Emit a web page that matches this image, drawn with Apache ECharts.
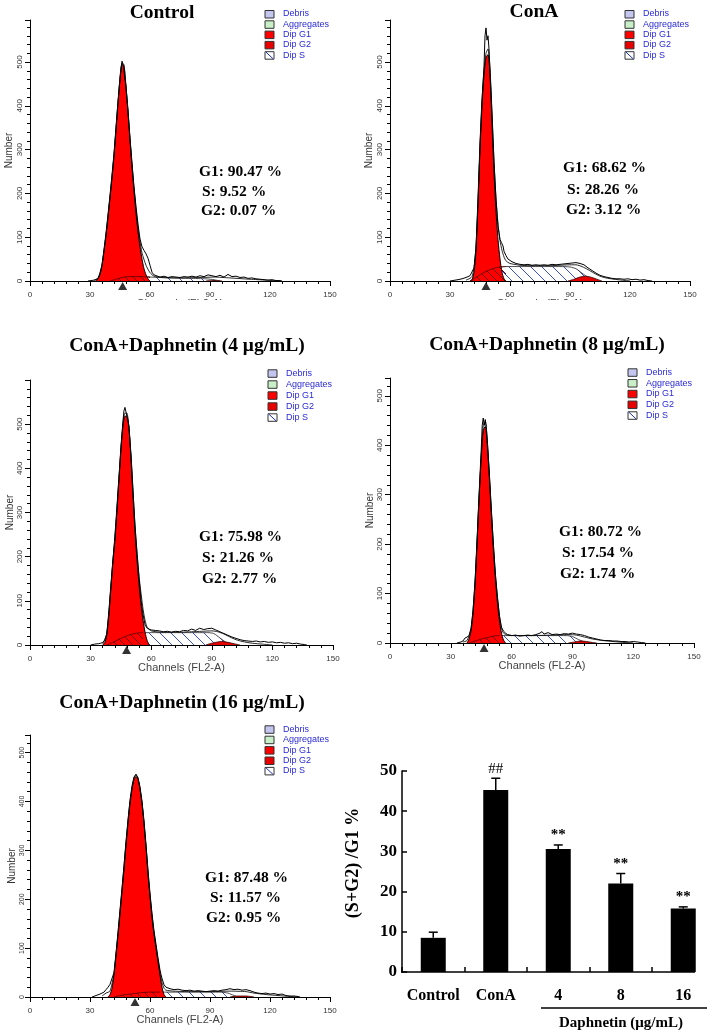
<!DOCTYPE html>
<html><head><meta charset="utf-8">
<script src="https://cdn.jsdelivr.net/npm/echarts@6/dist/echarts.min.js"></script>
<style>html,body{margin:0;padding:0;background:#fff}#c{width:720px;height:1035px}</style>
</head><body><div id="c"></div>
<script>
// ---------- DATA ----------
const panelTitles = ['Control', 'ConA', 'ConA+Daphnetin (4 μg/mL)', 'ConA+Daphnetin (8 μg/mL)', 'ConA+Daphnetin (16 μg/mL)'];
const g1Pct = ['90.47', '68.62', '75.98', '80.72', '87.48'];
const sPct = ['9.52', '28.26', '21.26', '17.54', '11.57'];
const g2Pct = ['0.07', '3.12', '2.77', '1.74', '0.95'];
const g1MeanChannel = [46.3, 48, 47.8, 46.4, 52.5];
const legendNames = ['Debris', 'Aggregates', 'Dip G1', 'Dip G2', 'Dip S'];
const xTicks = [0, 30, 60, 90, 120, 150];

// Control
const ctrlG1 = [[33,0],[34,5],[35,15],[36,35],[37,68],[38,105],[39,145],[40,190],[41,235],[42,285],[43,345],[44,405],[45,460],[46,495],[47,490],[48,440],[49,385],[50,320],[51,260],[52,205],[53,155],[54,112],[55,78],[56,50],[57,28],[58,14],[59,5],[60,0]];
const ctrlS = [[40,0],[43,4],[46,8],[50,10],[55,10],[60,9],[70,7],[80,6],[88,5],[92,3],[95,0]];
const ctrlG2 = [[88,0],[92,1],[96,0]];
const ctrlFit = [[32,0],[34,6],[36,38],[38,110],[40,196],[42,292],[44,410],[46,498],[47,494],[48,445],[50,326],[52,212],[54,120],[55,90],[56,64],[58,36],[60,19],[62,11],[66,8],[75,7],[85,8],[92,9],[100,7],[110,4],[118,2],[124,0]];
const ctrlRaw = [[29,0],[30,2],[32,2],[33,3],[34,6],[35,16],[36,36],[37,70],[38,104],[39,148],[40,192],[41,238],[42,288],[43,348],[44,408],[45,462],[46,502],[46.5,495],[47,494],[48,444],[49,390],[50,325],[51,268],[52,215],[53,170],[54,130],[55,96],[56,78],[57,70],[58,62],[59,52],[60,36],[61,20],[62,14],[63,12],[65,9],[67,11],[69,8],[71,10],[73,9],[75,8],[77,10],[79,9],[81,11],[83,9],[85,12],[87,10],[89,14],[91,12],[93,10],[95,13],[97,9],[99,15],[101,10],[103,11],[105,8],[107,9],[109,6],[111,7],[113,5],[115,4],[117,3],[119,2],[121,3],[123,1],[125,1],[126,0]];

// ConA
const conaG1 = [[40,0],[41,3],[42,20],[43,70],[44,175],[45,300],[46,400],[47,470],[48,510],[49,517],[50,470],[51,360],[52,245],[53,160],[54,95],[55,50],[56,20],[57,5],[58,0]];
const conaS = [[40,0],[43,8],[46,17],[49,24],[52,29],[55,32],[58,33],[65,33],[75,33],[85,33],[90,32],[93,28],[96,18],[99,8],[102,0]];
const conaG2 = [[89,0],[92,4],[95,9],[98,11],[101,8],[104,3],[106,0]];
const conaFit = [[38,2],[40,6],[41,10],[42,30],[43,80],[44,190],[45,315],[46,415],[47,480],[48,520],[49,530],[50,485],[51,385],[52,275],[53,190],[54,130],[55,92],[56,70],[57,55],[58,46],[60,40],[65,36],[70,35],[75,35],[80,35],[85,36],[90,37],[93,37],[96,33],[99,26],[102,18],[105,11],[108,7],[112,4],[116,2],[120,0]];
const conaRaw = [[30,0],[31,2],[34,3],[36,5],[38,8],[40,12],[41,15],[42,30],[43,75],[44,180],[45,310],[46,410],[47,490],[47.5,560],[48,578],[48.5,550],[49,560],[49.5,530],[50,480],[51,380],[52,270],[53,185],[54,125],[55,95],[55.7,88],[56.5,80],[57,68],[58,58],[59,50],[60,46],[61,44],[62,42],[63,40],[65,38],[67,37],[69,38],[71,36],[73,37],[75,36],[77,37],[79,36],[81,38],[83,37],[85,38],[87,39],[89,40],[91,41],[93,42],[95,40],[97,37],[99,30],[101,24],[103,18],[105,13],[107,10],[109,8],[111,6],[113,5],[115,5],[117,4],[119,5],[121,3],[123,4],[125,2],[127,3],[129,1],[131,0]];

// ConA + Daphnetin 4
const d4G1 = [[36,0],[37,5],[38,22],[39,65],[40,125],[41,185],[42,235],[43,300],[44,370],[45,440],[46,495],[47,518],[48,518],[49,490],[50,420],[51,335],[52,255],[53,190],[54,135],[55,90],[56,55],[57,28],[58,10],[59,0]];
const d4S = [[38,0],[41,6],[44,13],[47,19],[50,24],[53,27],[56,28],[60,28],[70,28],[80,28],[88,28],[91,26],[94,16],[97,6],[99,0]];
const d4G2 = [[87,0],[90,4],[93,7],[95,8],[98,6],[101,3],[104,0]];
const d4Fit = [[36,2],[38,26],[40,133],[42,245],[44,378],[46,500],[47,525],[48,525],[50,430],[52,270],[54,155],[56,80],[57,55],[58,40],[60,32],[65,29],[70,29],[75,29],[80,30],[85,31],[90,32],[93,30],[96,25],[99,18],[102,12],[105,8],[110,4],[115,2],[120,0]];
const d4Raw = [[30,0],[32,2],[34,3],[35,4],[36,6],[37,10],[38,25],[39,70],[40,130],[41,190],[42,240],[43,305],[44,375],[45,448],[46,505],[46.5,530],[47,538],[47.5,528],[48,530],[49,495],[50,428],[51,345],[52,268],[53,205],[54,150],[55,100],[56,68],[57,45],[58,38],[59,36],[60,34],[62,33],[64,32],[66,30],[68,31],[70,29],[72,31],[74,30],[76,33],[78,32],[80,36],[82,33],[84,38],[86,35],[88,37],[90,38],[92,34],[94,30],[96,26],[98,22],[100,18],[102,15],[104,12],[106,10],[108,9],[110,8],[112,9],[114,7],[116,8],[118,6],[120,7],[122,5],[124,6],[126,4],[128,5],[130,3],[132,4],[134,2],[136,1],[137,0]];

// ConA + Daphnetin 8
const d8G1 = [[38,0],[39,8],[40,25],[41,60],[42,120],[43,205],[44,295],[45,375],[46,430],[47,438],[48,400],[49,335],[50,260],[51,190],[52,130],[53,82],[54,45],[55,20],[56,6],[57,0]];
const d8S = [[39,0],[42,4],[45,8],[48,11],[51,14],[54,15],[58,15],[70,15],[80,15],[87,15],[90,13],[93,7],[96,2],[97,0]];
const d8G2 = [[88,0],[91,2],[94,4],[97,3],[100,1],[102,0]];
const d8Fit = [[36,2],[38,5],[40,28],[42,125],[44,300],[46,440],[47,448],[48,410],[50,268],[52,138],[54,55],[55,30],[56,20],[58,16],[62,15],[70,15],[80,16],[88,17],[92,16],[96,12],[100,8],[105,5],[110,3],[116,1],[120,0]];
const d8Raw = [[33,0],[35,2],[36,4],[37,10],[38,12],[39,15],[40,30],[41,65],[42,128],[43,212],[44,305],[45,390],[45.5,440],[46,455],[46.5,440],[47,452],[47.5,438],[48,410],[49,345],[50,270],[51,200],[52,140],[53,92],[54,55],[55,32],[56,24],[57,20],[58,17],[60,15],[62,16],[64,14],[66,15],[68,16],[70,15],[72,17],[74,20],[75,23],[76,18],[78,21],[80,17],[82,18],[84,17],[86,19],[88,18],[90,20],[92,18],[94,17],[96,15],[98,12],[100,10],[102,8],[104,6],[106,5],[108,5],[110,4],[112,4],[114,3],[116,3],[118,2],[120,3],[122,2],[124,1],[126,0]];

// ConA + Daphnetin 16
const d16G1 = [[39,0],[40,5],[41,18],[42,45],[43,85],[44,125],[45,170],[46,215],[47,260],[48,310],[49,355],[50,395],[51,425],[52,445],[53,451],[54,445],[55,425],[56,395],[57,355],[58,305],[59,250],[60,205],[61,162],[62,128],[63,100],[64,72],[65,45],[66,20],[67,5],[68,0]];
const d16S = [[42,0],[45,3],[48,5],[52,7],[56,9],[60,10],[65,10],[75,10],[85,10],[95,10],[99,8],[102,3],[104,0]];
const d16G2 = [[100,0],[104,2],[108,2],[112,0]];
const d16Fit = [[36,2],[38,8],[40,12],[42,48],[44,130],[46,220],[48,315],[50,400],[52,448],[53,454],[54,448],[56,398],[58,308],[60,208],[62,132],[64,76],[65,50],[66,30],[67,18],[68,14],[72,12],[80,11],[90,11],[100,12],[108,11],[112,8],[118,5],[124,3],[130,1],[134,0]];
const d16Raw = [[31,0],[32,2],[33,3],[35,6],[37,10],[38,15],[39,20],[40,26],[41,30],[42,50],[43,90],[44,132],[45,178],[46,222],[47,268],[48,318],[49,362],[50,402],[51,432],[52,450],[53,456],[53.5,452],[54,448],[55,430],[56,400],[57,360],[58,312],[59,258],[60,212],[61,170],[62,135],[63,108],[64,80],[65,55],[65.5,46],[66,38],[67,25],[68,20],[70,17],[72,15],[74,16],[76,14],[78,13],[80,14],[82,12],[84,13],[86,12],[88,11],[90,12],[92,13],[94,12],[96,14],[98,15],[100,17],[102,15],[104,16],[106,14],[108,15],[110,13],[112,10],[114,8],[116,7],[118,8],[120,6],[122,7],[124,5],[126,6],[128,3],[130,2],[132,2],[134,1],[135,0]];

// Bar chart
const barCategories = ['Control', 'ConA', '4', '8', '16'];
const barMeans = [8.5, 45.3, 30.6, 22.0, 15.8];
const barErrors = [1.4, 2.9, 1.0, 2.5, 0.4];
const barMarks = ['', '##', '**', '**', '**'];
const barYTicks = [0, 10, 20, 30, 40, 50];

// ---------- LAYOUT ----------
const histData = [
  {g1: ctrlG1, s: ctrlS, g2: ctrlG2, fit: ctrlFit, raw: ctrlRaw},
  {g1: conaG1, s: conaS, g2: conaG2, fit: conaFit, raw: conaRaw},
  {g1: d4G1, s: d4S, g2: d4G2, fit: d4Fit, raw: d4Raw},
  {g1: d8G1, s: d8S, g2: d8G2, fit: d8Fit, raw: d8Raw},
  {g1: d16G1, s: d16S, g2: d16G2, fit: d16Fit, raw: d16Raw}
];
const layouts = [
  {left: 30, top: 20, width: 300, height: 261, yMax: 596, nameGap: 16, lblMargin: 6, lblSize: 8, tx: 162, ty: 13, txt: [[199,172],[202,192],[201,211]], leg: {x: 265, y: 14, step: 10.3}},
  {left: 390, top: 20, width: 300, height: 261, yMax: 596, nameGap: 16, lblMargin: 6, lblSize: 8, tx: 534, ty: 12, txt: [[563,168],[567,190],[566,210]], leg: {x: 625, y: 14, step: 10.3}},
  {left: 30, top: 380, width: 303, height: 265, yMax: 600, nameGap: 15, lblMargin: 6, lblSize: 8, tx: 187, ty: 346, txt: [[199,537],[202,558],[202,579]], leg: {x: 268, y: 373.3, step: 11}},
  {left: 390, top: 378, width: 304, height: 265, yMax: 536, nameGap: 15, lblMargin: 6, lblSize: 8, tx: 547, ty: 345, txt: [[559,532],[562,553],[560,574]], leg: {x: 628, y: 372.3, step: 10.75}},
  {left: 30, top: 735, width: 300, height: 262, yMax: 536, nameGap: 13, lblMargin: 4, lblSize: 7, tx: 182, ty: 703, txt: [[205,878],[210,898],[206,918]], leg: {x: 265, y: 729.3, step: 10.4}}
];

function makeHatch(stroke, bg, n) {
  const c = document.createElement('canvas');
  c.width = n; c.height = n;
  const g = c.getContext('2d');
  if (bg) { g.fillStyle = bg; g.fillRect(0, 0, n, n); }
  g.strokeStyle = stroke; g.lineWidth = 1;
  g.beginPath(); g.moveTo(-1, -1); g.lineTo(n + 1, n + 1); g.stroke();
  return c;
}
const hatchBlueImg = makeHatch('#3a4fd6', '#ffffff', 11);
const hatchRedImg = makeHatch('#6a0000', null, 8);

const SANS = '"Liberation Sans", Arial, sans-serif';
const SERIF = '"Liberation Serif", "Times New Roman", serif';

const grids = [], xAxes = [], yAxes = [], series = [], graphics = [];

function txt(x, y, text, font, fill, align, vAlign, extra) {
  return Object.assign({
    type: 'text', x: x, y: y, z: 100,
    style: {text: text, font: font, fill: fill || '#000', align: align || 'left', verticalAlign: vAlign || 'middle',
      textAlign: align || 'left', textVerticalAlign: vAlign || 'middle'}
  }, extra || {});
}

layouts.forEach((L, i) => {
  const D = histData[i];
  grids.push({left: L.left, top: L.top, width: L.width, height: L.height, containLabel: false});
  xAxes.push({
    type: 'value', gridIndex: i, min: 0, max: 150, interval: 30,
    axisLine: {show: true, onZero: false, lineStyle: {color: '#000', width: 1}},
    axisTick: {show: true, length: 5, lineStyle: {color: '#000', width: 1}},
    minorTick: {show: true, splitNumber: 5, length: 3, lineStyle: {color: '#000', width: 1}},
    splitLine: {show: false},
    axisLabel: {fontSize: 8, fontFamily: SANS, color: '#333', margin: 10},
    name: 'Channels (FL2-A)', nameLocation: 'middle', nameGap: 17, nameMoveOverlap: false,
    nameTextStyle: {fontSize: 11, fontFamily: SANS, color: '#444'}
  });
  yAxes.push({
    type: 'value', gridIndex: i, min: 0, max: L.yMax, interval: 100,
    axisLine: {show: true, onZero: false, lineStyle: {color: '#000', width: 1}},
    axisTick: {show: true, length: 5, lineStyle: {color: '#000', width: 1}},
    minorTick: {show: true, splitNumber: 5, length: 3, lineStyle: {color: '#000', width: 1}},
    splitLine: {show: false},
    axisLabel: {fontSize: L.lblSize, fontFamily: SANS, color: '#333', rotate: 90, margin: L.lblMargin, showMaxLabel: false},
    name: 'Number', nameLocation: 'middle', nameGap: L.nameGap, nameRotate: 90, nameMoveOverlap: false,
    nameTextStyle: {fontSize: 10, fontFamily: SANS, color: '#333'}
  });
  const base = {type: 'line', xAxisIndex: i, yAxisIndex: i, symbol: 'none', showSymbol: false, animation: false, silent: true};
  const g1End = D.g1[D.g1.length - 1][0];
  const sUnder = D.s.filter(p => p[0] <= g1End);
  series.push(
    Object.assign({}, base, {data: D.s, smooth: 0.2, z: 2, lineStyle: {color: '#222', width: 0.8},
      areaStyle: {color: {image: hatchBlueImg, repeat: 'repeat'}, opacity: 1}}),
    Object.assign({}, base, {data: D.g2, smooth: 0.3, z: 3, lineStyle: {color: '#300', width: 0.8},
      areaStyle: {color: '#e60000', opacity: 1}}),
    Object.assign({}, base, {data: D.g1, smooth: 0.25, z: 4, lineStyle: {color: '#000', width: 1},
      areaStyle: {color: '#ff0000', opacity: 1}}),
    Object.assign({}, base, {data: sUnder, smooth: 0.2, z: 5, lineStyle: {color: '#500', width: 0.8},
      areaStyle: {color: {image: hatchRedImg, repeat: 'repeat'}, opacity: 1}}),
    Object.assign({}, base, {data: D.fit, smooth: 0.2, z: 6, lineStyle: {color: '#111', width: 0.9}}),
    Object.assign({}, base, {data: D.raw, z: 7, lineStyle: {color: '#000', width: 1}}),
    {type: 'scatter', xAxisIndex: i, yAxisIndex: i, data: [[g1MeanChannel[i], 0]], symbol: 'triangle',
      symbolSize: [9, 8], symbolOffset: [0, 5], itemStyle: {color: '#000'}, clip: false, silent: true, z: 8, animation: false}
  );
  // title
  graphics.push(txt(L.tx, L.ty, panelTitles[i], 'bold 19.5px ' + SERIF, '#000', 'center', 'middle'));
  // percentages
  graphics.push(txt(L.txt[0][0], L.txt[0][1], 'G1: ' + g1Pct[i] + ' %', 'bold 15.5px ' + SERIF));
  graphics.push(txt(L.txt[1][0], L.txt[1][1], 'S: ' + sPct[i] + ' %', 'bold 15.5px ' + SERIF));
  graphics.push(txt(L.txt[2][0], L.txt[2][1], 'G2: ' + g2Pct[i] + ' %', 'bold 15.5px ' + SERIF));
  // legend
  const fills = ['#c4c6f0', '#c8efc8', '#ff0000', '#e80000', '#ffffff'];
  legendNames.forEach((nm, k) => {
    const cy = L.leg.y + k * L.leg.step;
    graphics.push({type: 'rect', z: 100, shape: {x: L.leg.x, y: cy - 3.5, width: 9, height: 7.5},
      style: {fill: fills[k], stroke: '#333', lineWidth: 1}});
    if (k === 4) {
      graphics.push({type: 'line', z: 101, shape: {x1: L.leg.x + 1, y1: cy - 3, x2: L.leg.x + 8, y2: cy + 3.5},
        style: {stroke: '#2030c0', lineWidth: 1}});
    }
    graphics.push(txt(L.leg.x + 18, cy, nm, '9px ' + SANS, '#2a2ad8', 'left', 'middle'));
  });
});

// clip the cut-off axis names of top row
graphics.push({type: 'rect', z: 90, shape: {x: 0, y: 300, width: 720, height: 30}, style: {fill: '#fff'}});

// ---------- BAR CHART ----------
const bi = 5;
grids.push({left: 402, top: 771, width: 312.5, height: 201, containLabel: false});
xAxes.push({
  type: 'category', gridIndex: bi, data: barCategories,
  axisLine: {show: false},
  axisTick: {show: true, inside: true, interval: 0, length: 5, lineStyle: {color: '#000', width: 1.5}},
  axisLabel: {interval: 0, hideOverlap: false, fontSize: 16, fontWeight: 'bold', fontFamily: SERIF, color: '#000', margin: 16}
});
yAxes.push({
  type: 'value', gridIndex: bi, min: barYTicks[0], max: barYTicks[barYTicks.length - 1], interval: 10,
  axisLine: {show: true, lineStyle: {color: '#000', width: 1.5}},
  axisTick: {show: true, inside: true, length: 5, lineStyle: {color: '#000', width: 1.5}},
  splitLine: {show: false},
  axisLabel: {fontSize: 17, fontWeight: 'bold', fontFamily: SERIF, color: '#000', margin: 5}
});
series.push({
  type: 'bar', xAxisIndex: bi, yAxisIndex: bi, data: barMeans, barWidth: 25,
  itemStyle: {color: '#000'}, animation: false, silent: true, z: 2
});
series.push({
  type: 'custom', xAxisIndex: bi, yAxisIndex: bi, animation: false, silent: true, z: 3,
  data: barCategories.map((c, k) => [k, barMeans[k], barErrors[k]]),
  renderItem: function (params, api) {
    const k = api.value(0), m = api.value(1), e = api.value(2);
    const p0 = api.coord([k, m]);
    const p1 = api.coord([k, m + e]);
    const children = [
      {type: 'line', shape: {x1: p0[0], y1: p0[1], x2: p1[0], y2: p1[1]}, style: {stroke: '#000', lineWidth: 1.5}},
      {type: 'line', shape: {x1: p1[0] - 4.5, y1: p1[1], x2: p1[0] + 4.5, y2: p1[1]}, style: {stroke: '#000', lineWidth: 1.5}}
    ];
    const mk = barMarks[params.dataIndex];
    if (mk) {
      children.push({type: 'text', x: p1[0], y: p1[1] - 2,
        style: {text: mk, font: (mk === '##' ? '' : 'bold ') + '15px ' + SERIF, fill: '#000',
          align: 'center', verticalAlign: 'bottom', textAlign: 'center', textVerticalAlign: 'bottom'}});
    }
    return {type: 'group', children: children};
  }
});
// shortened x axis line, underline, names
graphics.push({type: 'line', z: 100, shape: {x1: 401, y1: 972, x2: 695, y2: 972}, style: {stroke: '#000', lineWidth: 1.5}});
graphics.push({type: 'rect', z: 99, shape: {x: 698, y: 960, width: 22, height: 14}, style: {fill: '#fff'}});
graphics.push({type: 'line', z: 100, shape: {x1: 541, y1: 1008, x2: 707, y2: 1008}, style: {stroke: '#000', lineWidth: 1.5}});
graphics.push(txt(621, 1023, 'Daphnetin (μg/mL)', 'bold 15px ' + SERIF, '#000', 'center', 'middle'));
graphics.push(txt(353, 863, '(S+G2) /G1 %', 'bold 18px ' + SERIF, '#000', 'center', 'middle', {rotation: Math.PI / 2}));

const chart = echarts.init(document.getElementById('c'), null, {renderer: 'canvas'});
chart.setOption({
  backgroundColor: '#ffffff',
  animation: false,
  grid: grids, xAxis: xAxes, yAxis: yAxes, series: series, graphic: graphics
});
</script></body></html>
